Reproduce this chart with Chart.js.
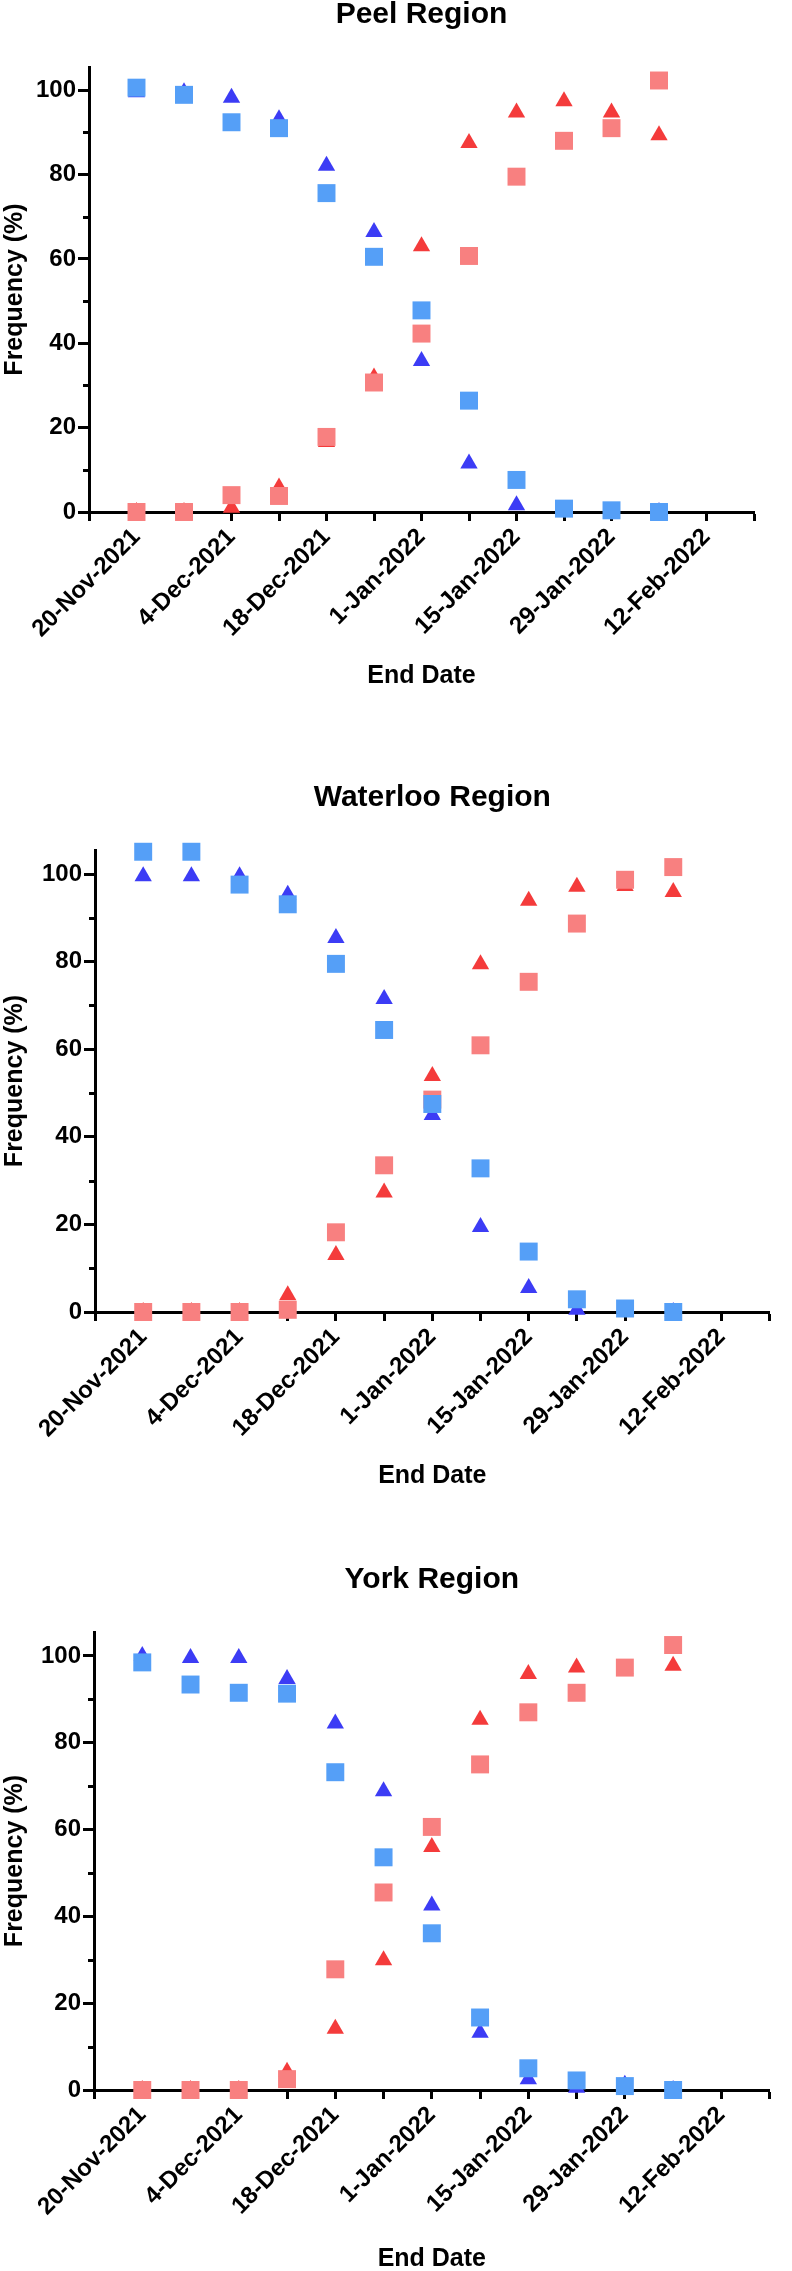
<!DOCTYPE html>
<html>
<head>
<meta charset="utf-8">
<script src="https://cdn.jsdelivr.net/npm/chart.js@4.4.0/dist/chart.umd.min.js"></script>
<style>
  html, body { margin: 0; padding: 0; background: #fff; overflow: hidden; }
  canvas { position: absolute; left: 0; }
</style>
</head>
<body>
<canvas id="peel" width="792" height="700" style="top:0px"></canvas>
<canvas id="waterloo" width="792" height="740" style="top:760px"></canvas>
<canvas id="york" width="792" height="740" style="top:1540px"></canvas>
<script>
// week index of each end date (0 = 20-Nov-2021)
const endDates = ['20-Nov-2021', '27-Nov-2021', '4-Dec-2021', '11-Dec-2021', '18-Dec-2021', '25-Dec-2021',
                  '1-Jan-2022', '8-Jan-2022', '15-Jan-2022', '22-Jan-2022', '29-Jan-2022', '5-Feb-2022'];
const weeks = [0, 1, 2, 3, 4, 5, 6, 7, 8, 9, 10, 11];

const xTickWeeks = [0, 2, 4, 6, 8, 10, 12];
const xTickLabels = ['20-Nov-2021', '4-Dec-2021', '18-Dec-2021', '1-Jan-2022', '15-Jan-2022', '29-Jan-2022', '12-Feb-2022'];
const yTicks = [0, 20, 40, 60, 80, 100];
const yMinorTicks = [10, 30, 50, 70, 90];

// Peel
const peelDeltaTri   = [99.5, 99.5, 98.2, 93.1, 82.1, 66.4, 35.8, 11.5, 1.6, 0, 0, 0];
const peelDeltaSq    = [100.6, 98.9, 92.4, 91.0, 75.6, 60.5, 47.8, 26.4, 7.6, 0.8, 0.4, 0];
const peelOmicronTri = [0, 0, 1.0, 5.8, 16.6, 31.9, 63.0, 87.5, 94.7, 97.4, 94.7, 89.3];
const peelOmicronSq  = [0, 0, 4.0, 3.8, 17.8, 30.7, 42.3, 60.7, 79.5, 88.0, 91.0, 102.3];

// Waterloo
const waterlooDeltaTri   = [99.5, 99.5, 99.5, 95.3, 85.4, 71.5, 45.0, 19.4, 5.5, 0.5, 0, 0];
const waterlooDeltaSq    = [105.1, 105.1, 97.6, 93.1, 79.5, 64.4, 47.5, 32.8, 13.8, 2.9, 0.8, 0];
const waterlooOmicronTri = [0, 0, 0, 3.8, 13.0, 27.3, 53.9, 79.4, 93.9, 97.1, 97.3, 95.9];
const waterlooOmicronSq  = [0, 0, 0, 0.5, 18.2, 33.5, 48.5, 60.9, 75.4, 88.7, 98.7, 101.6];

// York
const yorkDeltaTri   = [100, 99.5, 99.5, 94.7, 84.4, 68.8, 42.5, 13.2, 2.5, 0.5, 1.2, 0];
const yorkDeltaSq    = [98.5, 93.4, 91.5, 91.3, 73.2, 53.6, 36.1, 16.7, 5.0, 2.2, 0.9, 0];
const yorkOmicronTri = [0, 0, 0, 4.2, 14.1, 29.9, 56.0, 85.3, 95.8, 97.3, 97.0, 97.7];
const yorkOmicronSq  = [0, 0, 0, 2.5, 27.8, 45.5, 60.6, 75.0, 87.0, 91.5, 97.3, 102.5];

const TRI_BLUE = '#3c3cf5';
const SQ_BLUE = '#559ff7';
const TRI_RED = '#f43b3b';
const SQ_PINK = '#f88080';
const FONT = "'Liberation Sans', Arial, sans-serif";

Chart.defaults.font.family = FONT;
Chart.defaults.color = '#000';

const pts = vals => vals.map((v, i) => ({ x: weeks[i], y: v }));

// short ticks between the labelled y ticks
const minorTicks = {
  id: 'minorTicks',
  afterDraw(chart) {
    const y = chart.scales.y, a = chart.chartArea, ctx = chart.ctx;
    ctx.save();
    ctx.strokeStyle = '#000';
    ctx.lineWidth = 3;
    yMinorTicks.forEach(v => {
      const py = Math.round(y.getPixelForValue(v)) + 0.5;
      ctx.beginPath();
      ctx.moveTo(a.left - 6, py);
      ctx.lineTo(a.left, py);
      ctx.stroke();
    });
    ctx.restore();
  }
};

function regionChart(id, title, deltaTri, deltaSq, omicronTri, omicronSq, box) {
  new Chart(document.getElementById(id), {
    type: 'scatter',
    data: {
      datasets: [
        { label: 'Delta', data: pts(deltaSq), pointStyle: 'rect', pointRadius: 12.7, backgroundColor: SQ_BLUE, borderWidth: 0 },
        { label: 'Omicron', data: pts(omicronSq), pointStyle: 'rect', pointRadius: 12.7, backgroundColor: SQ_PINK, borderWidth: 0 },
        { label: 'Delta', data: pts(deltaTri), pointStyle: 'triangle', pointRadius: 10, backgroundColor: TRI_BLUE, borderWidth: 0 },
        { label: 'Omicron', data: pts(omicronTri), pointStyle: 'triangle', pointRadius: 10, backgroundColor: TRI_RED, borderWidth: 0 }
      ]
    },
    options: {
      responsive: false,
      animation: false,
      devicePixelRatio: 1,
      clip: false,
      layout: { padding: { left: 0, right: 792 - box.right, top: 0, bottom: 0 } },
      plugins: {
        legend: { display: false },
        tooltip: { enabled: false },
        title: {
          display: true,
          text: title,
          fullSize: false,
          color: '#000',
          font: { size: 30, weight: 'bold', lineHeight: 1 },
          padding: { top: box.titleY - 15, bottom: box.top - box.titleY - 15 }
        }
      },
      scales: {
        x: {
          type: 'linear',
          min: -1,
          max: 13,
          afterFit: s => { s.height = box.height - box.bottom; },
          border: { display: true, color: '#000', width: 3 },
          grid: { drawOnChartArea: false, drawTicks: true, tickLength: 9, tickWidth: 3, tickColor: '#000' },
          ticks: {
            stepSize: 1,
            autoSkip: false,
            minRotation: 45,
            maxRotation: 45,
            padding: 2,
            color: '#000',
            font: { size: 24, weight: 'bold' },
            callback: v => { const i = xTickWeeks.indexOf(v); return i < 0 ? '' : xTickLabels[i]; }
          },
          title: {
            display: true,
            text: 'End Date',
            color: '#000',
            font: { size: 25, weight: 'bold', lineHeight: 1.2 },
            padding: { top: 0, bottom: box.height - box.xTitleY - 15 }
          }
        },
        y: {
          min: 0,
          max: 105.5,
          afterFit: s => { s.width = box.left; },
          afterBuildTicks: s => { s.ticks = yTicks.map(v => ({ value: v })); },
          border: { display: true, color: '#000', width: 3 },
          grid: { drawOnChartArea: false, drawTicks: true, tickLength: 11, tickWidth: 3, tickColor: '#000' },
          ticks: { padding: 2, color: '#000', font: { size: 24, weight: 'bold' } },
          title: {
            display: true,
            text: 'Frequency (%)',
            color: '#000',
            font: { size: 25, weight: 'bold', lineHeight: 1.2 },
            padding: 0
          }
        }
      }
    },
    plugins: [minorTicks]
  });
}

regionChart('peel', 'Peel Region', peelDeltaTri, peelDeltaSq, peelOmicronTri, peelOmicronSq,
  { left: 89, right: 754, top: 67, bottom: 512, titleY: 15, xTitleY: 676, height: 700 });
regionChart('waterloo', 'Waterloo Region', waterlooDeltaTri, waterlooDeltaSq, waterlooOmicronTri, waterlooOmicronSq,
  { left: 95, right: 787, top: 90, bottom: 552, titleY: 38, xTitleY: 716, height: 740 });
regionChart('york', 'York Region', yorkDeltaTri, yorkDeltaSq, yorkOmicronTri, yorkOmicronSq,
  { left: 94, right: 777, top: 92, bottom: 550, titleY: 40, xTitleY: 719, height: 740 });
</script>
</body>
</html>
